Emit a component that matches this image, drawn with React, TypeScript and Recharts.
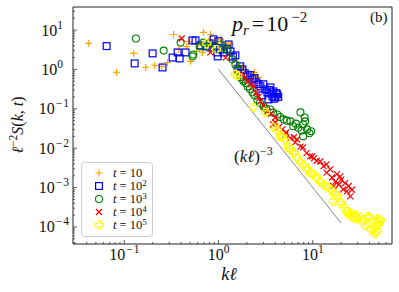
import React from 'react';
import { ScatterChart, Scatter, XAxis, YAxis, ReferenceArea } from 'recharts';

// [kℓ, ℓ^-2 S(k,t)]
const t1e1: [number, number][] = [
  [0.042, 4.6], [0.083, 0.84], [0.126, 2.55], [0.169, 1.12], [0.21, 1.26], [0.25, 1.19],
  [0.288, 1.5], [0.334, 7.7], [0.377, 3.2], [0.459, 3.8], [0.48, 5.1], [0.506, 1.6],
  [0.585, 2.86], [0.62, 4.5], [0.677, 2.7], [0.694, 8.7], [0.746, 4.06], [0.78, 5.2],
  [0.823, 7.7], [0.86, 3.4], [0.907, 5.45], [0.95, 4.4], [1.05, 5.8], [1.12, 4.9],
  [1.19, 3.8], [1.26, 4.4], [1.34, 4.3], [1.45, 1.8], [1.55, 1.3], [1.59, 0.75],
  [1.63, 1.26], [1.7, 0.95], [1.8, 1.12], [1.88, 0.66], [1.98, 0.89], [2.08, 0.56],
  [2.18, 0.75], [2.29, 0.5], [2.4, 0.84], [2.5, 0.62], [2.65, 0.63],
];

const t1e2: [number, number][] = [
  [0.065, 3.9], [0.129, 1.42], [0.2, 2.55], [0.255, 1.12], [0.326, 2.0], [0.368, 2.7],
  [0.387, 1.9], [0.447, 2.7], [0.53, 5.45], [0.57, 5.45], [0.645, 4.07], [0.73, 3.84],
  [0.8, 4.6], [0.885, 3.6], [0.885, 5.8], [0.976, 2.7], [0.98, 2.14], [1.0, 5.2],
  [1.05, 3.2], [1.13, 2.7], [1.22, 3.3], [1.28, 4.3], [1.34, 2.86], [1.42, 2.1],
  [1.51, 2.27], [1.59, 1.0], [1.7, 1.2], [1.79, 1.0], [1.9, 0.8], [2.03, 0.66],
  [2.15, 0.72], [2.29, 0.56], [2.4, 0.6], [2.52, 0.47], [2.65, 0.42], [2.78, 0.37],
  [2.92, 0.22], [2.99, 0.42], [3.14, 0.31], [3.3, 0.26], [3.38, 0.173], [3.45, 0.3],
  [3.55, 0.35], [3.65, 0.24], [3.73, 0.206], [3.82, 0.276], [3.9, 0.18], [4.0, 0.195],
  [4.1, 0.25], [4.2, 0.232], [4.3, 0.2],
];

const t1e3: [number, number][] = [
  [0.133, 6.1], [0.262, 3.0], [0.396, 4.8], [0.53, 2.14], [0.54, 2.4], [0.63, 3.8],
  [0.69, 4.8], [0.8, 3.5], [0.9, 4.1], [1.05, 4.3], [1.15, 3.6], [1.25, 3.0],
  [1.4, 1.8], [1.51, 1.34], [1.63, 1.0], [1.71, 0.63], [1.79, 0.56], [1.84, 0.5],
  [1.95, 0.45], [2.03, 0.37], [2.15, 0.32], [2.29, 0.26], [2.4, 0.22], [2.58, 0.17],
  [2.75, 0.14], [3.0, 0.115], [3.2, 0.1], [3.55, 0.096], [3.8, 0.08], [4.2, 0.072],
  [4.5, 0.062], [4.9, 0.054], [5.3, 0.05], [5.8, 0.048], [6.2, 0.036], [6.6, 0.042],
  [7.0, 0.033], [7.4, 0.081], [7.6, 0.028], [7.9, 0.04], [8.2, 0.06], [8.3, 0.048],
  [8.7, 0.03], [9.2, 0.024], [9.6, 0.027], [7.9, 0.02],
];

const t1e4: [number, number][] = [
  [0.406, 6.1], [0.82, 2.7], [1.19, 2.0], [1.79, 0.75], [1.9, 0.62], [2.05, 0.5],
  [2.2, 0.42], [2.35, 0.37], [2.5, 0.26], [2.65, 0.2], [2.78, 0.154], [3.0, 0.12],
  [3.3, 0.086], [3.6, 0.075], [3.8, 0.04], [4.0, 0.06], [4.0, 0.045], [4.4, 0.035],
  [4.75, 0.03], [5.1, 0.022], [5.2, 0.025], [5.8, 0.018], [6.3, 0.019], [6.5, 0.014],
  [6.8, 0.0166], [7.4, 0.011], [7.9, 0.0105], [8.6, 0.0075], [9.4, 0.0062],
  [9.9, 0.0062], [10.3, 0.0055], [11.0, 0.0048], [12, 0.0046], [13, 0.0035],
  [14, 0.0039], [14, 0.0024], [15.3, 0.0029], [16, 0.0018], [16.5, 0.0011],
  [17.3, 0.0014], [18, 0.0022], [19, 0.0012], [19.5, 0.0019], [20, 0.0016], [21, 0.0009],
  [22, 0.0013], [23, 0.0008], [24, 0.0011], [25, 0.0006], [26, 0.00088],
];

const t1e5: [number, number][] = [
  [0.75, 4.5], [0.95, 3.2], [1.51, 0.75], [1.6, 0.7], [2.35, 0.108], [3.14, 0.081],
  [3.82, 0.034], [4.2, 0.03], [4.5, 0.02], [4.75, 0.02], [5.1, 0.016], [5.5, 0.0105],
  [5.8, 0.0093], [6.3, 0.0075], [6.8, 0.0058], [7.4, 0.0044], [8.0, 0.0038],
  [8.7, 0.003], [9.4, 0.0024], [10, 0.0022], [11, 0.0018], [12, 0.0014], [13, 0.0012],
  [14, 0.00106], [15.5, 0.0009], [16.5, 0.00045], [17, 0.0007], [18, 0.0006],
  [20, 0.0004], [21, 0.00034], [23, 0.00025], [24, 0.00021], [25, 0.00023],
  [26, 0.00019], [27, 0.00017], [28, 0.0002], [30, 0.00016], [32, 0.000177],
  [34, 0.00015], [36, 0.00011], [38, 0.00018], [40, 0.000177], [42, 0.000087],
  [44, 0.00014], [45, 0.0001], [46, 0.000068], [47, 0.00008], [49, 0.00016],
  [50, 0.00012], [52, 0.00015],
];

// (kℓ)^-3 guide line end points
const guideLine: [number, number][] = [[1, 1], [20, 0.000125]];

const xDomain = [0.0286, 69.2];
const yDomain = [0.000037, 38.4];
const xDecades = [0.01, 0.1, 1, 10];
const yDecades = [0.00001, 0.0001, 0.001, 0.01, 0.1, 1, 10];
const mults = [1, 2, 3, 4, 5, 6, 7, 8, 9];

const legendLabels = ['10', '10^2', '10^3', '10^4', '10^5'];

const toPts = (arr: [number, number][]) => arr.map(([k, s]) => ({ k, s }));
const makeTicks = (decades: number[], dom: number[]) =>
  decades.flatMap(d => mults.map(m => m * d)).filter(v => v >= dom[0] && v <= dom[1]);

const xTicks = makeTicks(xDecades, xDomain);
const yTicks = makeTicks(yDecades, yDomain);

const ORANGE = '#ffa500';
const BLUE = '#0000ff';
const GREEN = '#008000';
const RED = '#ff0000';
const YELLOW = '#ffff00';
const FONT = '"Liberation Serif", "DejaVu Serif", serif';

const isMajor = (v: number) => Math.abs(Math.log10(v) - Math.round(Math.log10(v))) < 1e-6;

const Plus = ({ cx, cy }: any) => (
  <path d={`M${cx - 3.5},${cy}H${cx + 3.5}M${cx},${cy - 3.5}V${cy + 3.5}`} stroke={ORANGE} strokeWidth={1.2} fill="none" />
);
const Square = ({ cx, cy }: any) => (
  <rect x={cx - 3.4} y={cy - 3.4} width={6.8} height={6.8} stroke={BLUE} strokeWidth={1.2} fill="none" />
);
const Ring = ({ cx, cy }: any) => (
  <circle cx={cx} cy={cy} r={3.5} stroke={GREEN} strokeWidth={1.1} fill="none" />
);
const Cross = ({ cx, cy }: any) => (
  <path d={`M${cx - 3},${cy - 3}L${cx + 3},${cy + 3}M${cx - 3},${cy + 3}L${cx + 3},${cy - 3}`} stroke={RED} strokeWidth={1.2} fill="none" />
);
const FatPlus = ({ cx, cy }: any) => {
  const a = 1.5, b = 4;
  const p = [[-a, -b], [a, -b], [a, -a], [b, -a], [b, a], [a, a], [a, b], [-a, b], [-a, a], [-b, a], [-b, -a], [-a, -a]];
  return <polygon points={p.map(([x, y]) => `${cx + x},${cy + y}`).join(' ')} stroke={YELLOW} strokeWidth={1.2} fill="none" />;
};

const markers = [Plus, Square, Ring, Cross, FatPlus];

const Sup = ({ exp, size }: { exp: number; size: number }) => (
  <>
    {exp < 0 && <tspan dy={-7} fontSize={size} dx={1}>−</tspan>}
    <tspan dy={exp < 0 ? 0 : -7} dx={exp < 0 ? 1 : 0} fontSize={size}>{Math.abs(exp)}</tspan>
  </>
);

const XTick = (props: any) => {
  const { x, y, payload } = props;
  const v = payload.value;
  const major = isMajor(v);
  const exp = Math.round(Math.log10(v));
  return (
    <g>
      <line x1={x} y1={y} x2={x} y2={y - (major ? 4 : 2)} stroke="#333" strokeWidth={0.8} />
      {major && (
        <text x={x} y={y + 16} textAnchor="middle" fontFamily={FONT} fontSize={16} fill="#111">
          10<Sup exp={exp} size={11.5} />
        </text>
      )}
    </g>
  );
};

const YTick = (props: any) => {
  const { x, y, payload } = props;
  const v = payload.value;
  const major = isMajor(v);
  const exp = Math.round(Math.log10(v));
  return (
    <g>
      <line x1={x} y1={y} x2={x + (major ? 4 : 2)} y2={y} stroke="#333" strokeWidth={0.8} />
      {major && (
        <text x={exp < 0 ? x - 4 : x - 10} y={y + 5.5} textAnchor="end" fontFamily={FONT} fontSize={16} fill="#111">
          10<Sup exp={exp} size={11.5} />
        </text>
      )}
    </g>
  );
};

const series = [t1e1, t1e2, t1e3, t1e4, t1e5];

const LegendRow = ({ i, label }: { i: number; label: string }) => {
  const cy = 173 + i * 13;
  const M = markers[i];
  const [base, exp] = label.split('^');
  return (
    <g>
      <M cx={99} cy={cy} />
      <text x={113} y={cy + 4} fontFamily={FONT} fontSize={12.5} fill="#111">
        <tspan fontStyle="italic">t</tspan> = {base}
        {exp && <tspan dy={-4} fontSize={9}>{exp}</tspan>}
      </text>
    </g>
  );
};

export default function App() {
  return (
    <div style={{ position: 'absolute', left: 0, top: 0, width: 399, height: 292, background: '#fff' }}>
      <ScatterChart width={399} height={292} margin={{ top: 7, right: 7, left: 0, bottom: 0 }}>
        <XAxis
          dataKey="k" type="number" scale="log" domain={xDomain} allowDataOverflow
          ticks={xTicks} interval={0} tick={<XTick />} tickLine={false} axisLine={false}
          tickSize={0} tickMargin={0} height={48}
        />
        <YAxis
          dataKey="s" type="number" scale="log" domain={yDomain} allowDataOverflow
          ticks={yTicks} interval={0} tick={<YTick />} tickLine={false} axisLine={false}
          tickSize={0} tickMargin={0} width={73}
        />
        <ReferenceArea x1={xDomain[0]} x2={xDomain[1]} y1={yDomain[0]} y2={yDomain[1]} fill="none" stroke="#222" strokeWidth={1} ifOverflow="visible" />
        <Scatter data={toPts(guideLine)} line={{ stroke: '#777', strokeWidth: 0.9 }} shape={() => <g />} isAnimationActive={false} />
        {series.map((d, i) => {
          const M = markers[i];
          return <Scatter key={i} data={toPts(d)} shape={(p: any) => <M cx={p.cx} cy={p.cy} />} isAnimationActive={false} />;
        })}
      </ScatterChart>
      <svg width={399} height={292} style={{ position: 'absolute', left: 0, top: 0, pointerEvents: 'none' }}>
        <text x={232} y={31} fontFamily={FONT} fontSize={22} fill="#111">
          <tspan fontStyle="italic">p</tspan>
          <tspan fontStyle="italic" fontSize={15} dy={4}>r</tspan>
          <tspan dy={-4} dx={3}>=</tspan>
          <tspan dx={2}>10</tspan>
          <tspan dy={-9} dx={3} fontSize={15}>−2</tspan>
        </text>
        <text x={370} y={22} fontFamily={FONT} fontSize={15} fill="#111">(b)</text>
        <text x={234} y={162} fontFamily={FONT} fontSize={17} fill="#111">
          (<tspan fontStyle="italic">kℓ</tspan>)<tspan dy={-7} fontSize={12}>−3</tspan>
        </text>
        <text x={229} y={280} textAnchor="middle" fontFamily={FONT} fontSize={18} fontStyle="italic" fill="#111">kℓ</text>
        <text x={23} y={125} textAnchor="middle" transform="rotate(-90, 23, 125)" fontFamily={FONT} fontSize={16} fill="#111">
          <tspan fontStyle="italic">ℓ</tspan>
          <tspan dy={-6} fontSize={11.5}>−2</tspan>
          <tspan dy={6} fontStyle="italic">S</tspan>(<tspan fontStyle="italic">k</tspan>, <tspan fontStyle="italic">t</tspan>)
        </text>
        <rect x={81.5} y={162.5} width={71} height={74} rx={3} fill="rgba(255,255,255,0.8)" stroke="#ccc" strokeWidth={1} />
        {legendLabels.map((l, i) => <LegendRow key={i} i={i} label={l} />)}
      </svg>
    </div>
  );
}
